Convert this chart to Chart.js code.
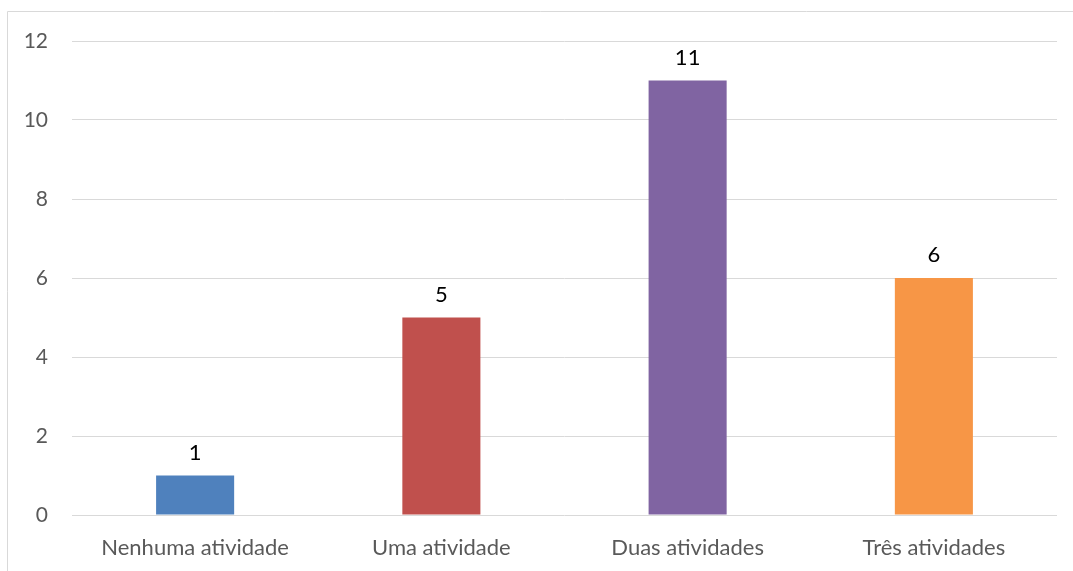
<!DOCTYPE html>
<html>
<head>
<meta charset="utf-8">
<script src="https://cdn.jsdelivr.net/npm/chart.js@4/dist/chart.umd.min.js"></script>
<style>
    html, body { margin: 0; padding: 0; background: #ffffff; }
    #wrap { width: 1073px; height: 571px; position: relative; }
</style>
</head>
<body>
<div id="wrap"><canvas id="atividades"></canvas></div>
<script>
var categories = ["Nenhuma atividade", "Uma atividade", "Duas atividades", "Três atividades"];
var values = [1, 5, 11, 6];
var barColors = ["#4F81BD", "#C0504D", "#8064A2", "#F79646"];
var yTicks = [0, 2, 4, 6, 8, 10, 12];

// thin grey frame around the chart (left and top edges only show)
var framePlugin = {
    id: 'frame',
    beforeDraw: function(chart) {
        var ctx = chart.ctx;
        ctx.save();
        ctx.strokeStyle = '#D9D9D9';
        ctx.lineWidth = 1;
        ctx.beginPath();
        ctx.moveTo(7.5, chart.height);
        ctx.lineTo(7.5, 11.5);
        ctx.lineTo(chart.width, 11.5);
        ctx.stroke();
        ctx.restore();
    }
};

// value above each bar
var valueLabels = {
    id: 'valueLabels',
    afterDatasetsDraw: function(chart) {
        var ctx = chart.ctx;
        var meta = chart.getDatasetMeta(0);
        ctx.save();
        ctx.fillStyle = '#000000';
        ctx.font = '22px Lato';
        ctx.textAlign = 'center';
        ctx.textBaseline = 'bottom';
        meta.data.forEach(function(bar, i) {
            ctx.fillText(chart.data.datasets[0].data[i], bar.x, bar.y - 12);
        });
        ctx.restore();
    }
};

var config = {
    type: 'bar',
    data: {
        labels: categories,
        datasets: [{
            data: values,
            backgroundColor: barColors,
            categoryPercentage: 1,
            barPercentage: 0.317
        }]
    },
    options: {
        responsive: true,
        maintainAspectRatio: false,
        animation: false,
        layout: {
            padding: { left: 0, right: 16, top: 41, bottom: 0 }
        },
        plugins: {
            legend: { display: false },
            tooltip: { enabled: false }
        },
        scales: {
            x: {
                grid: { display: false, drawTicks: false },
                border: { display: false },
                ticks: {
                    color: '#595959',
                    font: { family: 'Lato', size: 22 },
                    padding: 20,
                    maxRotation: 0
                },
                afterFit: function(scale) { scale.height = 56; }
            },
            y: {
                min: 0,
                max: 12,
                afterBuildTicks: function(scale) {
                    scale.ticks = yTicks.map(function(v) { return { value: v }; });
                },
                grid: { color: '#D9D9D9', lineWidth: 1, drawTicks: false },
                border: { display: false },
                ticks: {
                    color: '#595959',
                    font: { family: 'Lato', size: 21 },
                    padding: 24
                },
                afterFit: function(scale) { scale.width = 72; }
            }
        }
    },
    plugins: [framePlugin, valueLabels]
};

window.onload = function() {
    var ctx = document.getElementById("atividades").getContext("2d");
    window.atividadesChart = new Chart(ctx, config);
};
</script>
</body>
</html>
